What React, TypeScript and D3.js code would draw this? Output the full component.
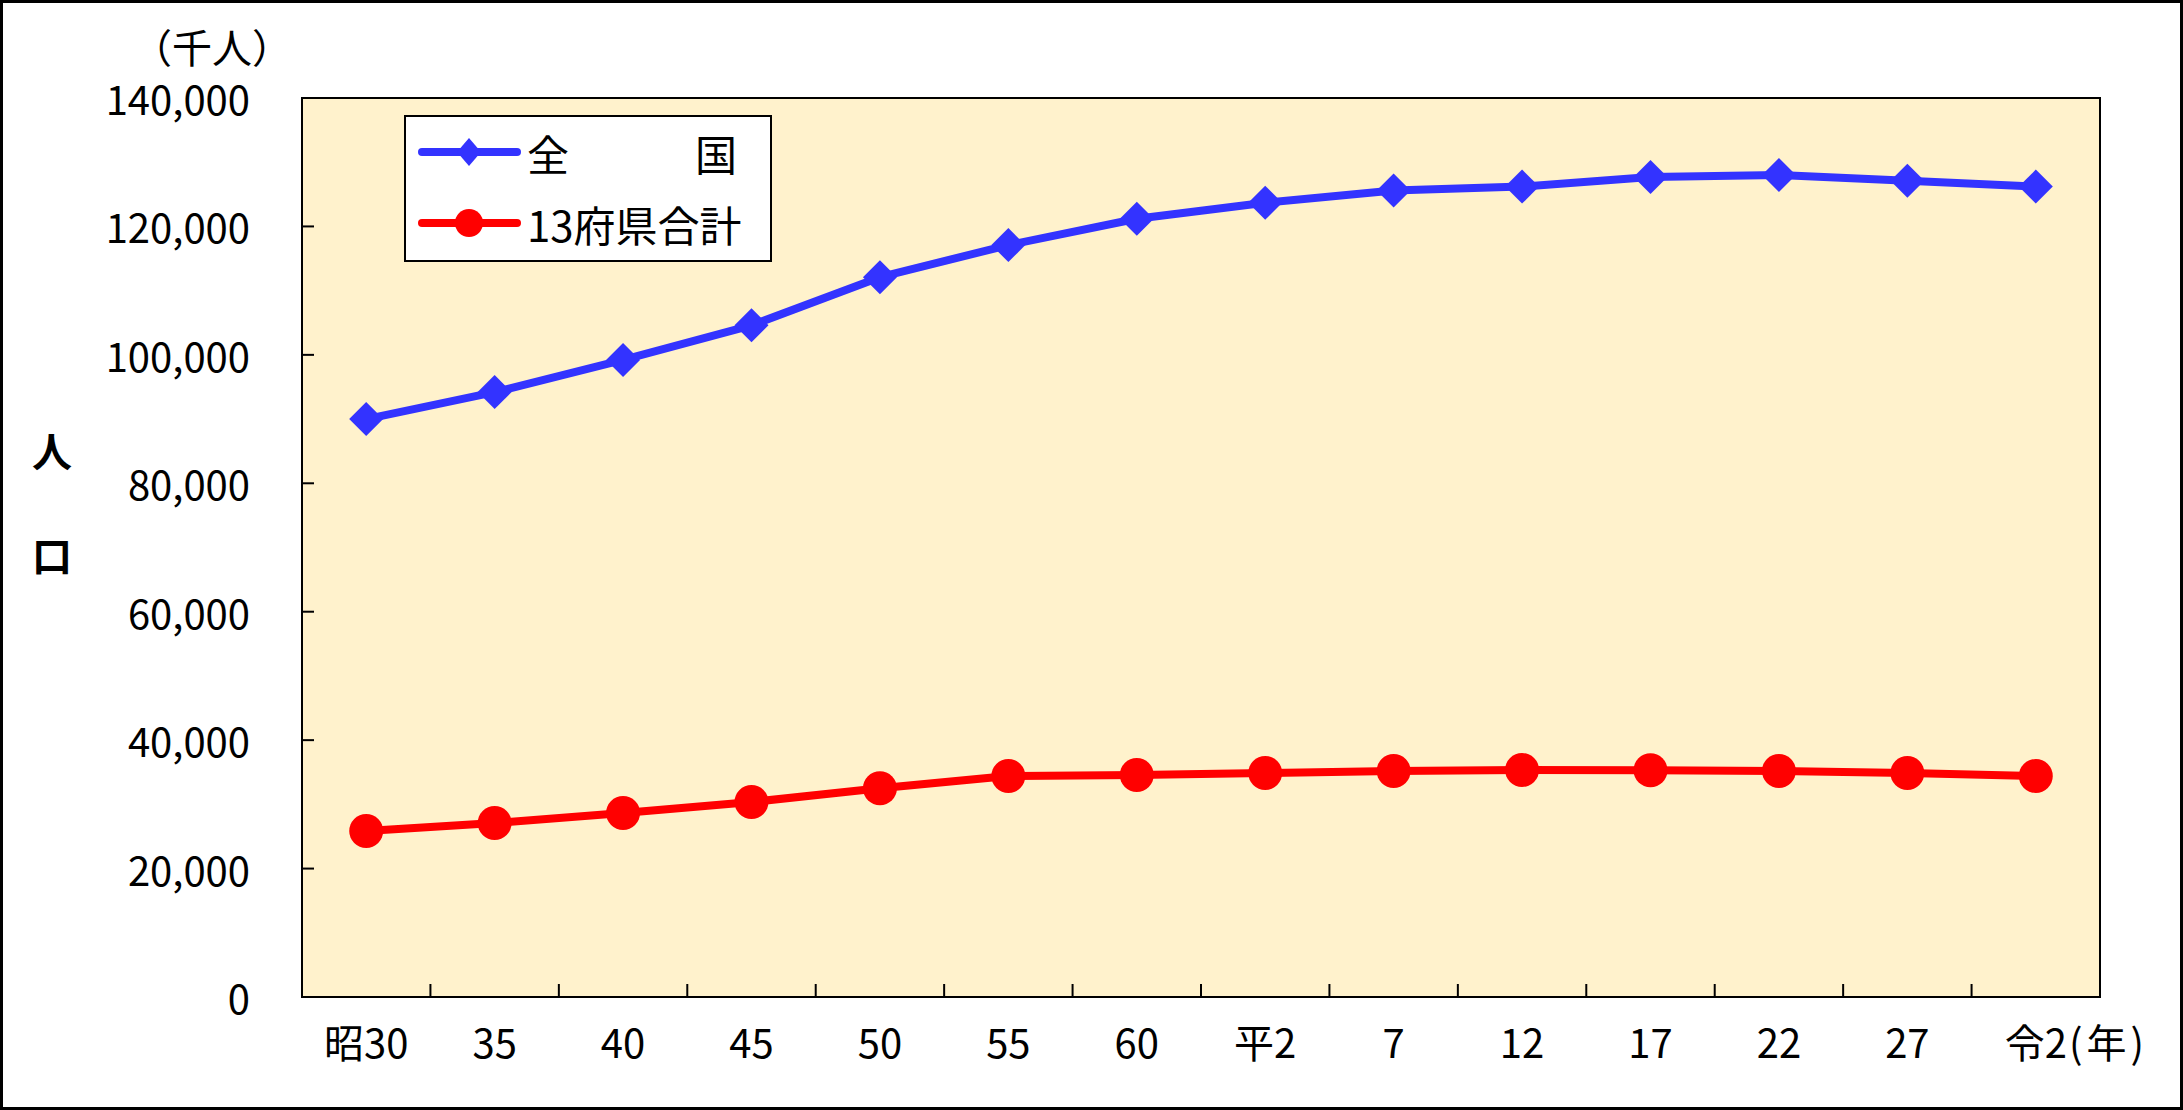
import React from "react";
import * as d3 from "d3";

const categories = ["昭30", "35", "40", "45", "50", "55", "60", "平2", "7", "12", "17", "22", "27", "令2"];
const nationalValues = [90000, 94200, 99200, 104600, 112100, 117100, 121200, 123700, 125600, 126200, 127700, 128000, 127100, 126200];
const prefValues = [25850, 27100, 28650, 30370, 32500, 34420, 34570, 34880, 35200, 35350, 35300, 35200, 34880, 34420];
const yTicks = [0, 20000, 40000, 60000, 80000, 100000, 120000, 140000];
const seriesNames = ["全　　　国", "13府県合計"];

const W = 2183;
const H = 1110;
const plot = { left: 302, right: 2100, top: 98, bottom: 997 };
const FONT = "'Noto Sans CJK JP', 'Noto Sans', sans-serif";

export default function App() {
  const x = d3.scaleBand<string>().domain(categories).range([plot.left, plot.right]).paddingInner(0).paddingOuter(0);
  const bw = x.bandwidth();
  const cx = (c: string) => (x(c) as number) + bw / 2;
  const y = d3.scaleLinear().domain([0, 140000]).range([plot.bottom, plot.top]);
  const fmt = d3.format(",");

  const line = d3
    .line<number>()
    .x((_, i) => cx(categories[i]))
    .y((d) => y(d));

  const diamond = (px: number, py: number, r: number, rx: number) =>
    `M${px},${py - r}L${px + rx},${py}L${px},${py + r}L${px - rx},${py}Z`;

  const blue = "#3333FF";
  const red = "#FF0000";

  return (
    <svg
      width={W}
      height={H}
      style={{ position: "absolute", left: 0, top: 0, background: "#fff" }}
      fontFamily={FONT}
    >
      <rect x={1.5} y={1.5} width={W - 3} height={H - 3} fill="#fff" stroke="#000" strokeWidth={3} />
      {/* plot area */}
      <rect
        x={plot.left}
        y={plot.top}
        width={plot.right - plot.left}
        height={plot.bottom - plot.top}
        fill="#FFF2CC"
        stroke="#000"
        strokeWidth={2}
      />
      {/* y ticks */}
      {yTicks.map((t) => (
        <g key={"y" + t}>
          {t !== 0 && t !== 140000 && (
            <line x1={plot.left} x2={plot.left + 12} y1={y(t)} y2={y(t)} stroke="#000" strokeWidth={2} />
          )}
          <text x={250} y={y(t)} textAnchor="end" dominantBaseline="central" fontSize={40} fill="#000">
            {fmt(t)}
          </text>
        </g>
      ))}
      {/* x ticks between categories */}
      {categories.slice(1).map((c) => (
        <line
          key={"xt" + c}
          x1={x(c) as number}
          x2={x(c) as number}
          y1={plot.bottom}
          y2={plot.bottom - 13}
          stroke="#000"
          strokeWidth={2}
        />
      ))}
      {categories.map((c) => (
        <text key={"xl" + c} x={cx(c)} y={1041} textAnchor="middle" dominantBaseline="central" fontSize={40} fill="#000">
          {c}
        </text>
      ))}
      <text x={2069} y={1041} textAnchor="start" dominantBaseline="central" fontSize={40} letterSpacing={4} fill="#000">
        (年)
      </text>
      {/* unit label */}
      <text x={212} y={46} textAnchor="middle" dominantBaseline="central" fontSize={40} fill="#000">
        （千人）
      </text>
      {/* y axis title */}
      <text x={52} y={450} textAnchor="middle" dominantBaseline="central" fontSize={40} fontWeight="bold" fill="#000">
        人
      </text>
      <text x={52} y={554} textAnchor="middle" dominantBaseline="central" fontSize={40} fontWeight="bold" fill="#000">
        口
      </text>
      {/* series */}
      <path d={line(nationalValues) || ""} fill="none" stroke={blue} strokeWidth={8} strokeLinejoin="round" />
      {nationalValues.map((v, i) => (
        <path key={"d" + i} d={diamond(cx(categories[i]), y(v), 17, 17)} fill={blue} />
      ))}
      <path d={line(prefValues) || ""} fill="none" stroke={red} strokeWidth={8} strokeLinejoin="round" />
      {prefValues.map((v, i) => (
        <circle key={"c" + i} cx={cx(categories[i])} cy={y(v)} r={17} fill={red} />
      ))}
      {/* legend */}
      <rect x={405} y={116} width={366} height={145} fill="#fff" stroke="#000" strokeWidth={2} />
      <line x1={422} x2={517} y1={152} y2={152} stroke={blue} strokeWidth={8} strokeLinecap="round" />
      <path d={diamond(469, 152, 14, 12)} fill={blue} />
      <text x={527} y={152} dominantBaseline="central" fontSize={42} fill="#000">
        {seriesNames[0]}
      </text>
      <line x1={422} x2={517} y1={223} y2={223} stroke={red} strokeWidth={8} strokeLinecap="round" />
      <circle cx={469} cy={223} r={14} fill={red} />
      <text x={527} y={223} dominantBaseline="central" fontSize={42} fill="#000">
        {seriesNames[1]}
      </text>
    </svg>
  );
}
